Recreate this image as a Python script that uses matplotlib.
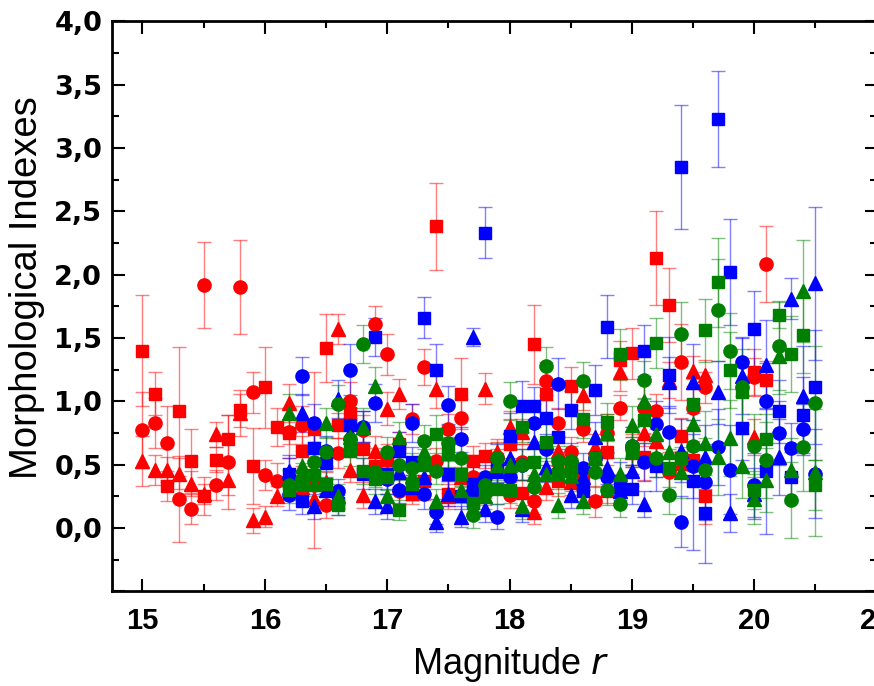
import numpy as np
import matplotlib

matplotlib.use("Agg")
import matplotlib.pyplot as plt  # noqa: E402
from matplotlib.ticker import FuncFormatter, MultipleLocator  # noqa: E402

plt.rcParams["font.family"] = ["Liberation Sans", "DejaVu Sans"]

nan = np.nan

# magnitude grid of the red sample (15.0 .. 20.1) and of blue/green (16.2 .. 20.5)
MAG_RED = [15.0, 15.1, 15.2, 15.3, 15.4, 15.5, 15.6, 15.7, 15.8, 15.9,
           16.0, 16.1, 16.2, 16.3, 16.4, 16.5, 16.6, 16.7, 16.8, 16.9,
           17.0, 17.1, 17.2, 17.3, 17.4, 17.5, 17.6, 17.7, 17.8, 17.9,
           18.0, 18.1, 18.2, 18.3, 18.4, 18.5, 18.6, 18.7, 18.8, 18.9,
           19.0, 19.1, 19.2, 19.3, 19.4, 19.5, 19.6, 19.7, 19.8, 19.9,
           20.0, 20.1]
MAG_BG = [16.2, 16.3, 16.4, 16.5, 16.6, 16.7, 16.8, 16.9,
          17.0, 17.1, 17.2, 17.3, 17.4, 17.5, 17.6, 17.7, 17.8, 17.9,
          18.0, 18.1, 18.2, 18.3, 18.4, 18.5, 18.6, 18.7, 18.8, 18.9,
          19.0, 19.1, 19.2, 19.3, 19.4, 19.5, 19.6, 19.7, 19.8, 19.9,
          20.0, 20.1, 20.2, 20.3, 20.4, 20.5]

# red sample
red_sq = [1.40, 1.06, 0.33, 0.92, 0.53, 0.25, 0.54, 0.70, 0.93, 0.49,
          1.11, 0.80, 0.75, 0.61, 0.78, 1.42, 0.81, 0.91, 0.62, 0.49,
          0.54, 0.66, 0.27, 0.37, 2.38, 0.27, 1.06, 0.53, 0.57, 0.45,
          0.66, 0.28, 1.45, 1.06, 0.37, 1.12, 0.40, 0.55, 0.60, 1.33,
          1.38, 0.56, 2.13, 1.76, 0.73, 0.54, 0.25, nan, nan, nan,
          1.23, 1.17]
red_sq_err = [0.44, 0.17, 0.12, 0.51, 0.25, 0.15, 0.10, 0.19, 0.13, 0.30,
              0.32, 0.15, 0.20, 0.12, 0.45, 0.27, 0.10, 0.12, 0.15, 0.14,
              0.12, 0.10, 0.08, 0.15, 0.34, 0.10, 0.28, 0.12, 0.10, 0.14,
              0.20, 0.10, 0.31, 0.20, 0.12, 0.15, 0.10, 0.12, 0.10, 0.15,
              0.20, 0.18, 0.37, 0.29, 0.14, 0.15, 0.22, nan, nan, nan,
              0.18, 0.15]
red_ci = [0.77, 0.83, 0.67, 0.23, 0.15, 1.92, 0.34, 0.52, 1.90, 1.07,
          0.42, 0.37, 0.76, 0.81, 0.34, 0.18, 0.59, 1.00, 0.77, 1.61,
          1.37, 0.29, 0.86, 1.27, 0.53, 0.78, 0.87, 0.40, 0.28, 0.56,
          0.26, 0.52, 0.21, 1.16, 0.83, 0.60, 0.78, 0.21, 0.75, 0.95,
          0.62, 0.95, 0.92, 0.44, 1.31, 0.95, 1.11, nan, nan, nan,
          1.19, 2.08]
red_ci_err = [0.30, 0.20, 0.29, 0.34, 0.12, 0.34, 0.12, 0.37, 0.37, 0.16,
              0.12, 0.14, 0.10, 0.15, 0.50, 0.10, 0.12, 0.15, 0.12, 0.14,
              0.16, 0.10, 0.12, 0.14, 0.10, 0.12, 0.15, 0.18, 0.10, 0.12,
              0.10, 0.14, 0.10, 0.15, 0.12, 0.12, 0.10, 0.12, 0.15, 0.10,
              0.12, 0.20, 0.14, 0.16, 0.30, 0.15, 0.12, nan, nan, nan,
              0.15, 0.30]
red_tr = [0.53, 0.46, 0.46, 0.43, 0.35, 0.27, 0.74, 0.38, 0.91, 0.06,
          0.09, 0.25, 0.99, 0.32, 0.23, 0.36, 1.57, 0.46, 0.26, 0.61,
          0.94, 1.06, 0.32, 0.58, 1.10, 0.25, 0.40, 0.30, 1.10, 0.60,
          0.80, 0.76, 0.13, 0.32, 0.61, 0.36, 1.05, 0.64, 0.30, 1.23,
          0.60, 0.75, 0.69, 1.17, 0.51, 1.24, 1.21, nan, nan, nan,
          0.72, nan]
red_tr_err = [0.20, 0.12, 0.10, 0.12, 0.10, 0.08, 0.10, 0.12, 0.18, 0.10,
              0.08, 0.08, 0.15, 0.10, 0.10, 0.08, 0.12, 0.10, 0.10, 0.12,
              0.13, 0.12, 0.10, 0.10, 0.15, 0.10, 0.08, 0.10, 0.12, 0.10,
              0.12, 0.10, 0.10, 0.10, 0.12, 0.10, 0.12, 0.10, 0.10, 0.15,
              0.12, 0.10, 0.12, 0.14, 0.10, 0.12, 0.12, nan, nan, nan,
              0.14, nan]

# blue sample
blue_sq = [0.43, 0.21, 0.63, 0.51, 0.20, 0.81, 0.43, 1.51, 0.43, 0.61,
           0.52, 1.66, 1.25, 0.43, 0.25, 0.35, 2.33, 0.51, 0.73, 0.96,
           0.96, 0.87, 0.72, 0.93, 0.29, 1.09, 1.59, 0.37, 0.31, 1.40,
           0.49, 1.21, 2.85, 0.37, 0.12, 3.23, 2.02, 0.79, 1.57, 0.45,
           0.92, 0.40, 0.89, 1.11]
blue_sq_err = [0.15, 0.10, 0.20, 0.12, 0.10, 0.14, 0.12, 0.15, 0.12, 0.15,
               0.12, 0.16, 0.20, 0.15, 0.10, 0.15, 0.20, 0.15, 0.18, 0.20,
               0.15, 0.18, 0.12, 0.15, 0.12, 0.20, 0.25, 0.15, 0.12, 0.20,
               0.20, 0.30, 0.49, 0.54, 0.40, 0.38, 0.42, 0.25, 0.30, 0.50,
               0.25, 0.20, 0.30, 0.45]
blue_ci = [0.26, 1.20, 0.83, 0.61, 0.29, 1.25, 0.80, 0.99, 0.39, 0.30,
           0.83, 0.27, 0.13, 0.97, 0.70, 0.29, 0.40, 0.09, 0.40, 0.50,
           0.83, 0.62, 1.14, 0.52, 0.47, 0.55, 0.40, 0.30, 0.65, 0.52,
           0.82, 0.76, 0.05, 0.49, 0.36, 0.64, 0.46, 1.31, 0.34, 1.00,
           0.75, 0.63, 0.78, 0.43]
blue_ci_err = [0.12, 0.15, 0.15, 0.12, 0.10, 0.20, 0.12, 0.15, 0.12, 0.10,
               0.15, 0.12, 0.10, 0.15, 0.10, 0.12, 0.10, 0.10, 0.12, 0.12,
               0.15, 0.12, 0.20, 0.15, 0.12, 0.12, 0.15, 0.12, 0.15, 0.15,
               0.18, 0.20, 0.20, 0.25, 0.30, 0.30, 0.35, 0.20, 0.25, 0.30,
               0.25, 0.20, 0.20, 0.35]
blue_tr = [0.45, 0.91, 0.17, 0.30, 1.02, 0.75, 0.80, 0.21, 0.17, 0.44,
           0.32, 0.40, 0.05, 0.27, 0.09, 1.51, 0.15, 0.45, 0.55, 0.15,
           0.68, 0.48, 0.50, 0.26, 0.40, 0.72, 0.47, 0.29, 0.45, 0.19,
           0.55, 1.15, 0.61, 1.15, 0.56, 1.07, 0.12, 1.20, 0.27, 1.29,
           0.56, 1.81, 1.04, 1.93]
blue_tr_err = [0.10, 0.15, 0.10, 0.10, 0.15, 0.12, 0.12, 0.10, 0.10, 0.12,
               0.10, 0.12, 0.08, 0.10, 0.08, 0.07, 0.10, 0.12, 0.12, 0.10,
               0.12, 0.12, 0.12, 0.10, 0.10, 0.12, 0.12, 0.10, 0.12, 0.10,
               0.15, 0.20, 0.25, 0.30, 0.25, 0.25, 0.15, 0.30, 0.20, 0.35,
               0.30, 0.16, 0.40, 0.60]

# green sample
green_sq = [0.30, 0.35, 0.42, 0.35, 0.18, 0.61, 0.45, 0.39, 0.40, 0.14,
            0.35, 0.50, 0.74, 0.60, 0.43, 0.20, 0.30, 0.31, 0.30, 0.80,
            0.52, 0.68, 0.43, 0.45, 0.86, 0.55, 0.84, 1.37, 0.60, 0.85,
            1.46, 0.47, 0.55, 0.98, 1.56, 1.94, 1.25, 1.07, 0.30, 0.70,
            1.68, 1.37, 1.52, 0.34]
green_sq_err = [0.10, 0.10, 0.12, 0.10, 0.08, 0.12, 0.10, 0.12, 0.10, 0.08,
                0.10, 0.12, 0.15, 0.12, 0.10, 0.10, 0.10, 0.12, 0.10, 0.12,
                0.12, 0.15, 0.12, 0.10, 0.15, 0.12, 0.15, 0.20, 0.12, 0.18,
                0.20, 0.15, 0.15, 0.20, 0.25, 0.35, 0.30, 0.25, 0.15, 0.20,
                0.10, 0.30, 0.30, 0.20]
green_ci = [0.34, 0.39, 0.52, 0.60, 0.98, 0.70, 1.45, 0.44, 0.60, 0.50,
            0.47, 0.69, 0.45, 0.67, 0.55, 0.10, 0.34, 0.55, 1.00, 0.50,
            0.32, 1.28, 0.53, 0.53, 1.16, 0.44, 0.30, 0.19, 0.65, 1.17,
            0.55, 0.26, 1.53, 0.65, 0.46, 1.72, 1.40, 1.11, 0.65, 0.54,
            1.44, 0.22, 0.64, 0.99]
green_ci_err = [0.12, 0.12, 0.12, 0.12, 0.15, 0.12, 0.15, 0.12, 0.12, 0.12,
                0.12, 0.12, 0.10, 0.14, 0.12, 0.10, 0.10, 0.12, 0.15, 0.12,
                0.10, 0.15, 0.12, 0.12, 0.15, 0.12, 0.12, 0.10, 0.15, 0.15,
                0.15, 0.15, 0.25, 0.20, 0.25, 0.40, 0.30, 0.30, 0.25, 0.30,
                0.35, 0.30, 0.35, 0.45]
green_tr = [0.91, 0.49, 0.35, 0.83, 0.25, 0.72, 0.80, 1.12, 0.25, 0.72,
            0.41, 0.60, 0.21, 0.59, 0.30, 0.15, 0.25, 0.50, 0.50, 0.17,
            0.43, 0.43, 0.18, 0.41, 0.21, 0.55, 0.75, 0.43, 0.81, 1.00,
            0.74, 0.60, 0.44, 0.82, 0.67, 0.56, 0.71, 0.49, 0.23, 0.38,
            1.36, 0.46, 1.87, 0.44]
green_tr_err = [0.15, 0.12, 0.10, 0.12, 0.10, 0.12, 0.15, 0.15, 0.10, 0.12,
                0.10, 0.12, 0.10, 0.12, 0.10, 0.08, 0.10, 0.12, 0.12, 0.10,
                0.12, 0.12, 0.10, 0.12, 0.10, 0.12, 0.15, 0.12, 0.15, 0.18,
                0.15, 0.15, 0.20, 0.20, 0.25, 0.30, 0.30, 0.25, 0.20, 0.25,
                0.30, 0.25, 0.40, 0.50]

SERIES = [
    (MAG_RED, red_sq, red_sq_err, "s", "red"),
    (MAG_RED, red_ci, red_ci_err, "o", "red"),
    (MAG_RED, red_tr, red_tr_err, "^", "red"),
    (MAG_BG, blue_sq, blue_sq_err, "s", "blue"),
    (MAG_BG, blue_ci, blue_ci_err, "o", "blue"),
    (MAG_BG, blue_tr, blue_tr_err, "^", "blue"),
    (MAG_BG, green_sq, green_sq_err, "s", "green"),
    (MAG_BG, green_ci, green_ci_err, "o", "green"),
    (MAG_BG, green_tr, green_tr_err, "^", "green"),
]
ECOL = {"red": (1.0, 0.0, 0.0, 0.5), "blue": (0.0, 0.0, 1.0, 0.5),
        "green": (0.0, 0.5, 0.0, 0.5)}
MSIZE = {"s": 8.5, "o": 9.5, "^": 10}

fig = plt.figure(figsize=(8.74, 6.86), dpi=100)
ax = fig.add_axes([0.128, 0.138, 0.875, 0.831])

for x, y, e, m, c in SERIES:
    ax.errorbar(x, y, yerr=e, fmt=m, ms=MSIZE[m], color=c, mec=c,
                ecolor=ECOL[c], elinewidth=1.0, capsize=5, capthick=1.0)

ax.set_xlim(14.75, 21.0)
ax.set_ylim(-0.5, 4.0)
ax.xaxis.set_major_locator(MultipleLocator(1))
ax.xaxis.set_minor_locator(MultipleLocator(0.5))
ax.yaxis.set_major_locator(MultipleLocator(0.5))
ax.yaxis.set_minor_locator(MultipleLocator(0.25))
ax.yaxis.set_major_formatter(
    FuncFormatter(lambda v, _: "" if v < -0.01 else f"{v:.1f}".replace(".", ",")))
ax.xaxis.set_major_formatter(FuncFormatter(lambda v, _: f"{v:.0f}"))
ax.tick_params(which="both", direction="in", top=True, right=True, width=1.5)
ax.tick_params(which="major", length=9)
ax.tick_params(which="minor", length=5)
ax.tick_params(axis="y", pad=7)
ax.tick_params(axis="x", pad=11)
for lbl in ax.get_yticklabels():
    lbl.set_fontfamily(["DejaVu Sans"])
    lbl.set_fontweight("bold")
    lbl.set_fontsize(19.5)
for lbl in ax.get_xticklabels():
    lbl.set_fontfamily(["Liberation Sans Narrow", "Liberation Sans"])
    lbl.set_fontweight("bold")
    lbl.set_fontsize(21)
for sp in ax.spines.values():
    sp.set_linewidth(2)

ax.set_xlabel(r"Magnitude $\mathit{r}$", fontsize=26)
ax.set_ylabel("Morphological Indexes", fontsize=27.5)
ax.xaxis.set_label_coords(0.522, -0.095)
ax.yaxis.set_label_coords(-0.087, 0.532)

fig.savefig("out.png", dpi=100)
